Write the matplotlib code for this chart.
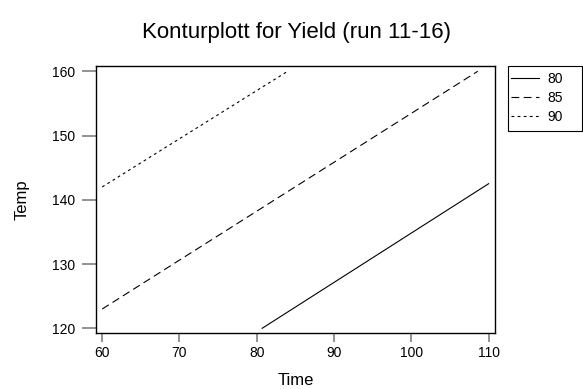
import matplotlib
matplotlib.use("Agg")
import matplotlib.pyplot as plt
from matplotlib.patches import Rectangle

# contour levels and their line end points
levels = ["80", "85", "90"]
time_ends = [[80.7, 110.0], [60.0, 108.6], [60.0, 84.0]]
temp_ends = [[120.0, 142.5], [123.0, 160.0], [142.0, 160.0]]
x_ticks = [60, 70, 80, 90, 100, 110]
y_ticks = [120, 130, 140, 150, 160]

plt.rcParams["font.family"] = ["Liberation Sans", "DejaVu Sans"]


def main():
    fig = plt.figure(figsize=(5.83, 3.89), dpi=100)
    ax = fig.add_axes([0.1647, 0.144, 0.684, 0.686])

    styles = ["-", (0, (7, 4)), (0, (2.5, 3))]
    for level, xs, ys, ls in zip(levels, time_ends, temp_ends, styles):
        ax.plot(xs, ys, color="black", linewidth=0.8, linestyle=ls, label=level)

    ax.set_xlim(59.2, 110.8)
    ax.set_ylim(119.27, 160.8)
    ax.set_xticks(x_ticks)
    ax.set_yticks(y_ticks)
    ax.tick_params(axis="x", length=6.5, width=1.2, color="#808080", labelsize=10, pad=3)
    ax.tick_params(axis="y", length=10, width=1.2, color="#808080", labelsize=10, pad=5)
    for spine in ax.spines.values():
        spine.set_linewidth(1.0)

    ax.set_xlabel("Time", fontsize=12, labelpad=9)
    ax.set_ylabel("Temp", fontsize=12, labelpad=16)
    fig.text(0.509, 1 - 38 / 389, "Konturplott for Yield (run 11-16)",
             fontsize=16, ha="center", va="baseline")

    leg = ax.legend(loc="center left", bbox_to_anchor=(511 / 583, 1 - 98 / 389),
                    bbox_transform=fig.transFigure, frameon=False,
                    fontsize=10, handlelength=2.0, borderaxespad=0, borderpad=0,
                    labelspacing=0.35, handletextpad=0.65)
    fig.add_artist(Rectangle((508 / 583, 1 - 131 / 389), 74 / 583, 65 / 389,
                             transform=fig.transFigure, fill=False,
                             edgecolor="black", linewidth=0.8))

    fig.savefig("out.png", dpi=100)


if __name__ == "__main__":
    main()
